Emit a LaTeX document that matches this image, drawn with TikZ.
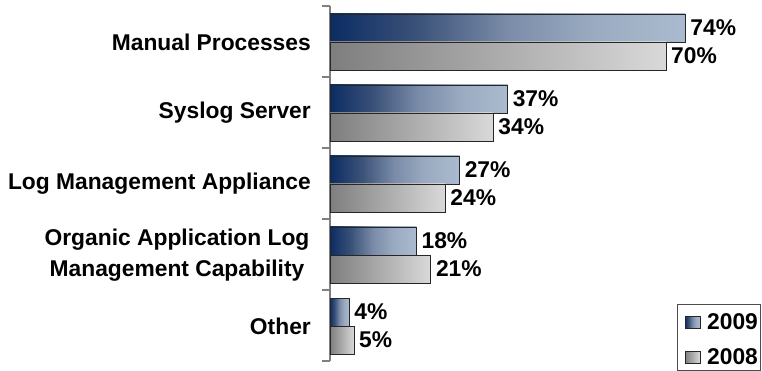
\documentclass[tikz,border=0pt]{standalone}
\usepackage{fontspec}
\setmainfont{Liberation Sans}

% bar colours
\definecolor{navyA}{HTML}{0B2C63}
\definecolor{navyB}{HTML}{3C5379}
\definecolor{navyC}{HTML}{7A8CA8}
\definecolor{navyD}{HTML}{9BACC2}
\definecolor{navyE}{HTML}{AABBCF}
\definecolor{greyA}{HTML}{7E7E7E}
\definecolor{greyE}{HTML}{D9D9D9}
\definecolor{axisgrey}{HTML}{808080}

% TikZ maps the path's bounding box onto the 25bp..75bp band
\pgfdeclarehorizontalshading{bar2009}{100bp}{%
  color(0bp)=(navyA); color(25bp)=(navyA); color(37.5bp)=(navyB);
  color(50bp)=(navyC); color(62.5bp)=(navyD); color(75bp)=(navyE);
  color(100bp)=(navyE)}
\pgfdeclarehorizontalshading{bar2008}{100bp}{%
  color(0bp)=(greyA); color(25bp)=(greyA); color(75bp)=(greyE);
  color(100bp)=(greyE)}

\tikzset{
  lbl/.style={font=\fontsize{22.8}{31}\selectfont\bfseries, inner sep=0pt},
  barA/.style={shading=bar2009, draw=black!85, line width=0.9pt},
  barB/.style={shading=bar2008, draw=black!85, line width=0.9pt},
  axisline/.style={draw=axisgrey, line width=1.2pt},
}

\begin{document}
\begin{tikzpicture}[x=1pt,y=-1pt]
\useasboundingbox (0,0) rectangle (762,371);

% value axis with category ticks
\draw[axisline] (330,6) -- (330,361);
\foreach \i in {0,...,5}{
  \draw[axisline] (322,{6+71*\i}) -- (330,{6+71*\i});
}

% bars (2009 above, 2008 below) with their value labels
\foreach \i/\a/\b in {0/74/70, 1/37/34, 2/27/24, 3/18/21, 4/4/5}{
  \pgfmathsetmacro{\t}{6+71*\i}
  \pgfmathsetmacro{\xa}{330+4.8*\a}
  \pgfmathsetmacro{\xb}{330+4.8*\b}
  \path[barA] (330,\t+8) rectangle (\xa,\t+36);
  \path[barB] (330,\t+36) rectangle (\xb,\t+64);
  \node[lbl, anchor=west] (va\i) at (\xa+5,\t+22) {\a\%};
  \node[lbl, anchor=west] (vb\i) at (\xb+5,\t+50) {\b\%};
}

% category labels
\node[lbl, anchor=east] (c0) at (311,42)  {Manual Processes};
\node[lbl, anchor=east] (c1) at (311,113) {Syslog Server};
\node[lbl, anchor=east] (c2) at (311,184) {Log Management Appliance};
\node[lbl, align=center] (c3) at (177,255) {Organic Application Log\\Management Capability};
\node[lbl, anchor=east] (c4) at (311,326) {Other};

% legend
\draw[draw=black!70, line width=0.9pt] (677,304) rectangle (760,370);
\path[barA] (685,316) rectangle (700,328);
\path[barB] (685,351) rectangle (700,363);
\node[lbl, anchor=west] (l1) at (707,322) {2009};
\node[lbl, anchor=west] (l2) at (707,357) {2008};
\end{tikzpicture}
\end{document}
